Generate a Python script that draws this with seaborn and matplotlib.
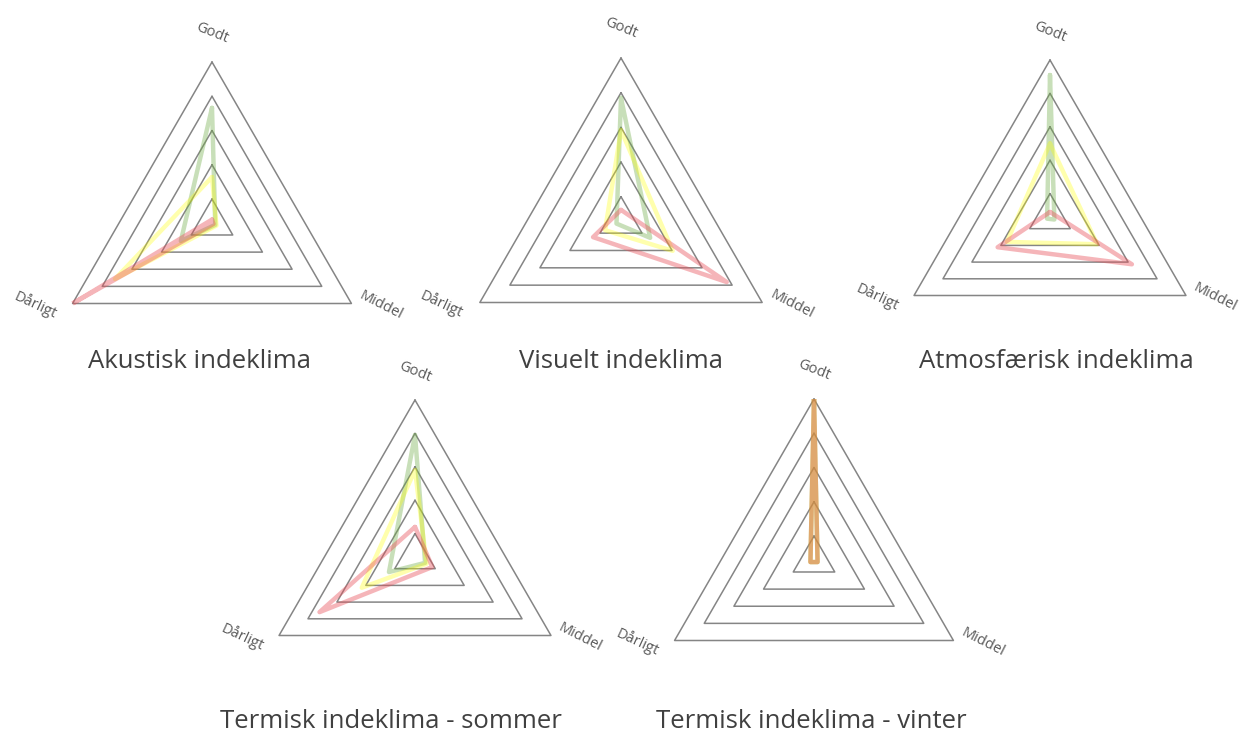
import numpy as np
import pandas as pd
import seaborn as sns
import matplotlib
matplotlib.use('Agg')
import matplotlib.pyplot as plt

# kategorier (akser) og serier
categories = ["Godt", "Middel", "Dårligt"]
series_names = ["Grøn", "Gul", "Rød"]

# aflæste værdier, ringe ligger på 1..5, centrum = 0.3
akustisk_groen = [3.66, 0.41, 1.35]
akustisk_gul = [1.64, 0.45, 3.57]
akustisk_roed = [0.40, 0.35, 5.00]

visuelt_groen = [3.85, 1.27, 0.45]
visuelt_gul = [2.92, 2.02, 0.83]
visuelt_roed = [0.62, 3.82, 1.23]

atmos_groen = [4.55, 0.45, 0.40]
atmos_gul = [2.50, 1.93, 1.79]
atmos_roed = [0.45, 3.13, 2.11]

sommer_groen = [3.95, 0.65, 1.20]
sommer_gul = [2.90, 0.70, 2.14]
sommer_roed = [1.20, 0.90, 3.60]

vinter_groen = [5.00, 0.42, 0.42]
vinter_gul = [5.00, 0.42, 0.42]
vinter_roed = [5.00, 0.42, 0.42]

titles = ["Akustisk indeklima", "Visuelt indeklima", "Atmosfærisk indeklima",
          "Termisk indeklima - sommer", "Termisk indeklima - vinter"]
chart_data = [
    [akustisk_groen, akustisk_gul, akustisk_roed],
    [visuelt_groen, visuelt_gul, visuelt_roed],
    [atmos_groen, atmos_gul, atmos_roed],
    [sommer_groen, sommer_gul, sommer_roed],
    [vinter_groen, vinter_gul, vinter_roed],
]
ring_levels = [1, 2, 3, 4, 5]

# layout i pixels: centrum x, centrum y, radius
W, H = 1252, 735
layout = [(212, 223, 161), (621, 221, 163), (1050, 217, 157), (415, 557, 157), (814, 560, 161)]
title_pos = [(200, 361), (621, 361), (1056, 361), (391, 721), (811, 721)]

palette = {"Grøn": "#70ad47", "Gul": "#ffff00", "Rød": "#e8505a"}
alphas = {"Grøn": 0.38, "Gul": 0.32, "Rød": 0.42}

sns.set_theme(style="white")
plt.rcParams['font.family'] = ['Open Sans', 'DejaVu Sans']

fig = plt.figure(figsize=(W / 100, H / 100), dpi=100)

theta_cat = np.array([0, 2 * np.pi / 3, 4 * np.pi / 3])
theta_closed = np.append(theta_cat, 2 * np.pi)

for i, (cx, cy, R) in enumerate(layout):
    ax = fig.add_axes([(cx - R) / W, 1 - (cy + R) / H, 2 * R / W, 2 * R / H], projection='polar')
    ax.set_theta_zero_location('N')
    ax.set_theta_direction(-1)
    ax.set_ylim(0.3, 5)
    ax.grid(False)
    ax.set_xticks([])
    ax.set_yticks([])
    ax.spines['polar'].set_visible(False)
    ax.patch.set_alpha(0)

    # trekantede gitterlinjer
    for lvl in ring_levels:
        ax.plot(theta_closed, [lvl] * 4, color='#858585', lw=1.1, zorder=1, clip_on=False)

    # serier
    rows = []
    for name, vals in zip(series_names, chart_data[i]):
        closed = list(vals) + [vals[0]]
        for t, v in zip(theta_closed, closed):
            rows.append({'serie': name, 'theta': t, 'value': v})
    df = pd.DataFrame(rows)
    for name in series_names:
        sub = df[df['serie'] == name]
        sns.lineplot(data=sub, x='theta', y='value', sort=False, estimator=None,
                     color=palette[name], alpha=alphas[name], lw=3.2, ax=ax,
                     legend=False, zorder=3)
    ax.set_xlabel('')
    ax.set_ylabel('')
    ax.set_ylim(0.3, 5)

    # aksetekster
    ax.text(0, 5.85, categories[0], rotation=-22, ha='center', va='center',
            fontsize=10.5, color='#595959', clip_on=False)
    ax.text(np.deg2rad(116), 5.8, categories[1], rotation=-27, ha='center', va='center',
            fontsize=10.5, color='#595959', clip_on=False)
    ax.text(np.deg2rad(245), 6.0, categories[2], rotation=-25, ha='center', va='center',
            fontsize=10.5, color='#595959', clip_on=False)

for t, (tx, ty) in zip(titles, title_pos):
    fig.text(tx / W, 1 - ty / H, t, ha='center', va='center', fontsize=18.5, color='#404040')

fig.savefig('out.png', dpi=100)
